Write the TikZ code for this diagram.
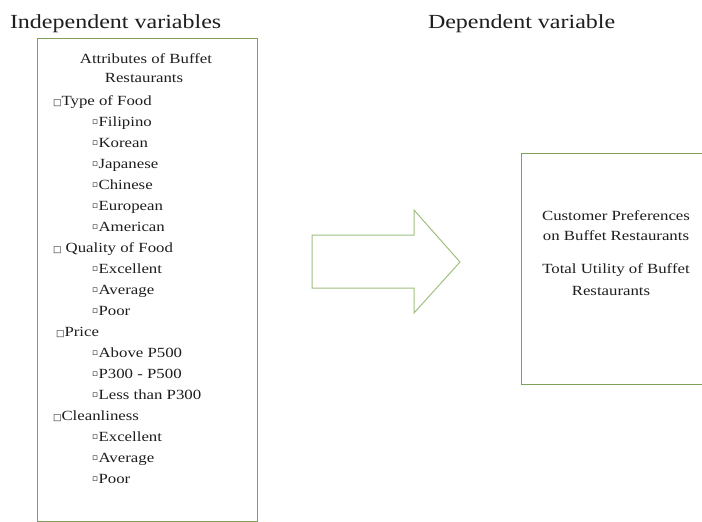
\documentclass[tikz,border=0pt]{standalone}
\usepackage{fontspec}
\setmainfont{Liberation Serif}[FakeStretch=1.2]
\newfontfamily\symf{DejaVu Sans}
\definecolor{boxgreen}{RGB}{128,158,92}
\definecolor{arrowgreen}{RGB}{160,192,128}
\definecolor{txt}{RGB}{30,30,30}
\newcommand{\sqb}{{\symf\fontsize{9}{9}\selectfont\char"25A1}}
\newcommand{\smb}{\raisebox{1.6pt}{\symf\fontsize{9}{9}\selectfont\char"25AB}\hspace{0.5pt}}
\begin{document}
\begin{tikzpicture}[x=1pt,y=-1pt,
  every node/.style={inner sep=0pt,outer sep=0pt,text=txt},
  head/.style={anchor=base west,font=\fontsize{20}{24}\selectfont},
  ttl/.style={anchor=base,font=\fontsize{14}{17}\selectfont},
  cat/.style={anchor=base west,font=\fontsize{14}{17}\selectfont},
  itm/.style={anchor=base west,font=\fontsize{14}{17}\selectfont},
  framebox/.style={draw=boxgreen,line width=0.9pt},
  arrowshape/.style={draw=arrowgreen,line width=1pt,line join=miter}]
\useasboundingbox (0,0) rectangle (702,522);
\fill[white] (0,0) rectangle (702,522);
% headings
\node[head] (hind) at (10,28) {Independent variables};
\node[head] (hdep) at (428,28) {Dependent variable};
% left box
\draw[framebox] (37,38) rectangle (257,521);
\node[ttl] (t1) at (146,63) {Attributes of Buffet};
\node[ttl] (t2) at (144,82) {Restaurants};
\node[cat] (c1) at (53,105) {\sqb Type of Food};
\node[itm] (i1) at (92,126) {\smb Filipino};
\node[itm] (i2) at (92,147) {\smb Korean};
\node[itm] (i3) at (92,168) {\smb Japanese};
\node[itm] (i4) at (92,189) {\smb Chinese};
\node[itm] (i5) at (92,210) {\smb European};
\node[itm] (i6) at (92,231) {\smb American};
\node[cat] (c2) at (53,252) {\sqb\ Quality of Food};
\node[itm] (i7) at (92,273) {\smb Excellent};
\node[itm] (i8) at (92,294) {\smb Average};
\node[itm] (i9) at (92,315) {\smb Poor};
\node[cat] (c3) at (56,336) {\sqb Price};
\node[itm] (i10) at (92,357) {\smb Above P500};
\node[itm] (i11) at (92,378) {\smb P300 - P500};
\node[itm] (i12) at (92,399) {\smb Less than P300};
\node[cat] (c4) at (53,420) {\sqb Cleanliness};
\node[itm] (i13) at (92,441) {\smb Excellent};
\node[itm] (i14) at (92,462) {\smb Average};
\node[itm] (i15) at (92,483) {\smb Poor};
% arrow
\draw[arrowshape] (312,235) -- (414,235) -- (414,210) -- (460,262) -- (414,313) -- (414,288) -- (312,288) -- cycle;
% right box
\draw[framebox] (712,153) -- (521,153) -- (521,384) -- (712,384);
\node[ttl] (r1) at (616,220) {Customer Preferences};
\node[ttl] (r2) at (616,240) {on Buffet Restaurants};
\node[ttl] (r3) at (616,273) {Total Utility of Buffet};
\node[ttl] (r4) at (611,295) {Restaurants};
\end{tikzpicture}
\end{document}
